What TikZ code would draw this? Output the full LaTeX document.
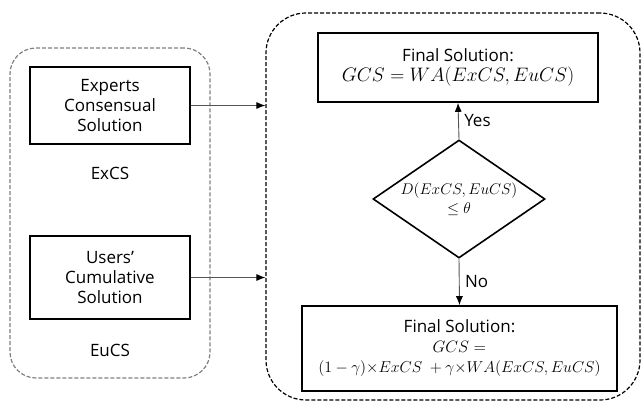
\RequirePackage{fix-cm}
\documentclass[tikz,border=0pt]{standalone}
\usepackage{fontspec}
\setmainfont{Open Sans}
\usepackage{amsmath,amssymb}
\usetikzlibrary{arrows.meta,positioning,shapes.geometric,calc}
\definecolor{ink}{HTML}{000000}
\definecolor{inkgray}{HTML}{555555}
\definecolor{grpgray}{HTML}{7F7F7F}
\tikzset{
  flowbox/.style={draw=ink,line width=1.6pt,
                  align=center,font=\fontsize{17}{20}\selectfont,inner sep=2pt},
  tagtext/.style={text=ink,font=\fontsize{17}{20}\selectfont},
  decide/.style={draw=ink,line width=1.6pt,diamond,aspect=1.46,inner sep=0pt,
                 align=center,font=\fontsize{15.5}{19}\selectfont},
  inputgrp/.style={draw=grpgray,dash pattern=on 4pt off 2pt,line width=1.2pt,rounded corners=26pt},
  logicgrp/.style={draw=ink,dash pattern=on 4pt off 2pt,line width=1.2pt,rounded corners=40pt},
  flowarr/.style={-{Latex[length=9pt,width=7pt,color=ink]},line width=0.9pt,color=inkgray}
}
\newcommand{\tms}{\mathord{\times}}
\newcommand{\mathsz}[1]{\fontsize{#1}{20}\selectfont}
\begin{document}
\begin{tikzpicture}[x=1pt,y=-1pt]
      \useasboundingbox (0,0) rectangle (642,408);
      % the two dashed groups
      \node[inputgrp,minimum width=200pt,minimum height=330pt] (inputs) at (110,213) {};
      \node[logicgrp,minimum width=374pt,minimum height=387pt] (logic) at (453,206.5) {};
      % inputs
      \node[flowbox,minimum width=160pt,minimum height=77pt] (excs) at (110,105.5)
        {Experts\\Consensual\\Solution};
      \node[tagtext] (excstag) at (110,173) {ExCS};
      \node[flowbox,minimum width=160pt,minimum height=83pt] (eucs) at (110,277.5)
        {Users'\\Cumulative\\Solution};
      \node[tagtext] (eucstag) at (110,350) {EuCS};
      % decision
      \node[decide,minimum width=172pt,minimum height=118pt] (check) at (459,199)
        {$D(ExCS,EuCS)$\\$\leq\theta$};
      \node[flowbox,minimum width=280pt,minimum height=69pt] (yesbox) at (458,67.5)
        {Final Solution:\\{\mathsz{19.5}$GCS=WA(ExCS,EuCS)$}};
      \node[flowbox,minimum width=315pt,minimum height=85pt] (nobox) at (459.5,348.5)
        {Final Solution:\\{\mathsz{16.5}$GCS=$}\\{\mathsz{15.8}$(1-\gamma)\tms ExCS\ +\gamma\tms WA(ExCS,EuCS)$}};
      % connectors
      \draw[flowarr] (excs.east) -- (excs.east -| logic.west);
      \draw[flowarr] (eucs.east) -- (eucs.east -| logic.west);
      \draw[flowarr] (check.north) -- (yesbox.south)
        node[midway,right=2pt,tagtext] (yestag) {Yes};
      \draw[flowarr] (check.south) -- (nobox.north)
        node[midway,right=2pt,tagtext] (notag) {No};
    \end{tikzpicture}
\end{document}
